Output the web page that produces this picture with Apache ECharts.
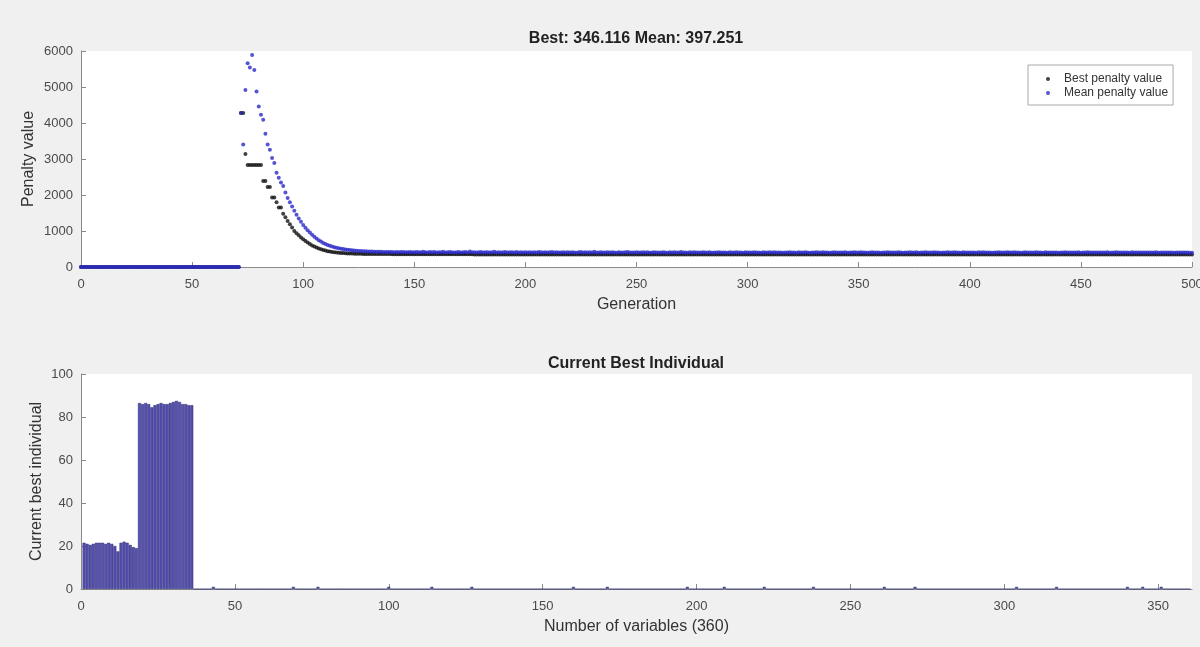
<!DOCTYPE html>
<html>
<head>
<meta charset="utf-8">
<script src="https://cdn.jsdelivr.net/npm/echarts@6/dist/echarts.min.js"></script>
<style>
  html, body { margin: 0; padding: 0; background: #f0f0f0; }
  #chart { width: 1200px; height: 647px; }
</style>
</head>
<body>
<div id="chart"></div>
<script>
// penalty values per generation, index = generation (0..500)
const bestPenalty = [
  0,0,0,0,0,0,0,0,0,0,0,0,0,0,0,0,0,0,0,0,
  0,0,0,0,0,0,0,0,0,0,0,0,0,0,0,0,0,0,0,0,
  0,0,0,0,0,0,0,0,0,0,0,0,0,0,0,0,0,0,0,0,
  0,0,0,0,0,0,0,0,0,0,0,0,4280,4280,3140,2830,2830,2830,2830,2830,
  2830,2830,2390,2390,2220,2220,1930,1930,1800,1650,1650,1480,1380,1280,1190,1100,1000,940,880,820,
  770,720,680,640,600,570,540,515,490,470,455,440,428,418,410,402,396,390,386,382,
  378,375,372,370,368,366,365,364,363,362,361,361,360,360,359,359,359,358,358,358,
  357,357,357,356,356,356,356,355,355,355,355,354,354,354,354,354,353,353,353,353,
  353,353,352,352,352,352,352,352,352,351,351,351,351,351,351,351,351,350,350,350,
  350,350,350,350,350,350,350,350,350,350,349,349,349,349,349,349,349,349,349,349,
  349,349,349,349,349,349,349,349,349,349,348,348,348,348,348,348,348,348,348,348,
  348,348,348,348,348,348,348,348,348,348,348,348,348,348,348,348,348,348,348,348,
  348,348,348,348,348,348,348,348,348,348,347,347,347,347,347,347,347,347,347,347,
  347,347,347,347,347,347,347,347,347,347,347,347,347,347,347,347,347,347,347,347,
  347,347,347,347,347,347,347,347,347,347,347,347,347,347,347,347,347,347,347,347,
  347,347,347,347,347,347,347,347,347,347,347,347,347,347,347,347,347,347,347,347,
  347,347,347,347,347,347,347,347,347,347,347,347,347,347,347,347,347,347,347,347,
  347,347,347,347,347,347,347,347,347,347,347,347,347,347,347,347,347,347,347,347,
  347,347,347,347,347,347,347,347,347,347,347,347,347,347,347,347,347,347,347,347,
  347,347,347,347,347,347,347,347,347,347,347,347,347,347,347,347,347,347,347,347,
  347,347,347,347,347,347,347,347,347,347,347,347,347,347,347,347,347,347,347,347,
  347,347,347,347,347,347,347,347,347,347,347,347,347,347,347,347,347,347,347,347,
  346,346,346,346,346,346,346,346,346,346,346,346,346,346,346,346,346,346,346,346,
  346,346,346,346,346,346,346,346,346,346,346,346,346,346,346,346,346,346,346,346,
  346,346,346,346,346,346,346,346,346,346,346,346,346,346,346,346,346,346,346,346,
  346.116
];

const meanPenalty = [
  0,0,0,0,0,0,0,0,0,0,0,0,0,0,0,0,0,0,0,0,
  0,0,0,0,0,0,0,0,0,0,0,0,0,0,0,0,0,0,0,0,
  0,0,0,0,0,0,0,0,0,0,0,0,0,0,0,0,0,0,0,0,
  0,0,0,0,0,0,0,0,0,0,0,0,4280,3400,4920,5660,5540,5890,5475,4875,
  4460,4230,4090,3700,3400,3260,3030,2890,2620,2480,2350,2250,2070,1920,1800,1680,1560,1450,1350,1260,
  1170,1090,1020,955,895,840,790,745,705,670,640,612,588,567,550,535,521,508,497,487,
  478,470,463,457,452,447,443,439,436,433,430,428,426,424,422,421,420,418,417,416,
  415,412,418,409,414,420,411,408,416,413,410,419,407,412,425,409,406,414,411,417,
  405,412,409,421,404,410,416,408,403,411,419,406,409,414,402,428,407,412,405,410,
  417,404,409,413,401,408,422,406,411,403,409,415,400,407,412,405,418,404,409,402,
  410,406,413,401,408,404,419,407,402,411,405,409,416,403,408,400,406,413,404,409,
  402,411,405,399,408,414,403,407,401,410,405,421,404,400,409,403,406,412,401,407,
  404,399,410,405,402,408,415,401,406,403,409,400,405,411,402,407,398,404,410,403,
  406,401,409,404,399,412,403,407,400,405,418,402,406,399,408,403,410,401,405,402,
  407,400,404,410,398,405,402,409,401,406,403,399,411,404,400,407,402,405,398,409,
  403,406,400,412,402,405,399,408,403,401,407,404,410,400,405,402,398,406,403,409,
  401,405,399,407,403,400,410,404,398,406,402,409,400,404,407,401,405,399,403,411,
  402,406,400,404,409,399,405,401,407,403,400,408,402,405,399,404,410,401,406,403,
  399,405,402,408,400,404,406,401,409,403,398,405,402,407,400,404,411,399,405,402,
  408,400,404,403,409,401,405,399,406,402,410,404,400,407,403,405,399,408,402,404,
  401,406,403,399,407,402,412,400,405,403,398,406,404,409,401,405,400,407,402,404,
  410,401,405,399,404,408,402,406,400,403,407,401,405,399,409,402,404,400,406,403,
  399,405,402,408,400,404,406,401,403,409,399,405,402,407,400,404,401,406,403,400,
  405,402,408,399,404,401,407,403,400,406,402,405,399,409,403,401,404,400,406,402,
  403,400,405,401,407,399,404,402,406,400,403,405,399,402,404,400,406,401,403,399,
  397.251
];

// current best individual: variables 1..18 and 19..36, small non-zero values elsewhere
const nVariables = 360;
const firstBlock = [21.5,21,20.5,21,21.5,21.5,21.5,21,21.5,21,20,17.5,21.5,22,21.5,20.5,19.5,19];
const secondBlock = [86.5,86,86.5,86,84.5,85.5,86,86.5,86,86,86.5,87,87.5,87,86,86,85.5,85.5];
const smallVarIndex = [43,69,77,100,114,127,160,171,197,209,222,238,261,271,304,317,340,345,351];
const smallVarValue = [1,1,1,1,1,1,1,1,1,1,1,1,1,1,1,1,1,1,1];

const font = "'Liberation Sans', Arial, sans-serif";
const axisColor = '#8a8a8a';
const labelColor = '#4a4a4a';

const bestData = bestPenalty.map((v, i) => [i, v]);
const meanData = meanPenalty.map((v, i) => [i, v]);

const individual = [];
for (let i = 1; i <= nVariables; i++) individual.push([i, 0]);
firstBlock.forEach((v, k) => { individual[k][1] = v; });
secondBlock.forEach((v, k) => { individual[firstBlock.length + k][1] = v; });
smallVarIndex.forEach((idx, k) => { individual[idx - 1][1] = smallVarValue[k]; });

function valueAxis(extra, labelMargin) {
  return Object.assign({
    type: 'value',
    axisLine: { show: true, lineStyle: { color: axisColor, width: 1 } },
    axisTick: { show: true, inside: true, length: 5, lineStyle: { color: axisColor } },
    axisLabel: {
      fontSize: 13, color: labelColor, fontFamily: font, margin: labelMargin,
      showMaxLabel: extra.max !== 361,
      formatter: (v) => String(v)
    },
    splitLine: { show: false },
    nameLocation: 'middle',
    nameMoveOverlap: false,
    nameTextStyle: { fontSize: 16, color: '#333', fontFamily: font }
  }, extra);
}

const titleStyle = { fontSize: 16, fontWeight: 'bold', color: '#222', fontFamily: font };

const chart = echarts.init(document.getElementById('chart'));
chart.setOption({
  backgroundColor: '#f0f0f0',
  animation: false,
  title: [
    { text: 'Best: 346.116 Mean: 397.251', left: 636, top: 31, padding: 0, textAlign: 'center', textStyle: titleStyle },
    { text: 'Current Best Individual', left: 636, top: 356, padding: 0, textAlign: 'center', textStyle: titleStyle }
  ],
  legend: {
    data: ['Best penalty value', 'Mean penalty value'],
    orient: 'vertical',
    left: 1028, top: 65,
    padding: [8, 5, 6, 18],
    itemGap: 2,
    itemWidth: 22, itemHeight: 4,
    icon: 'circle',
    backgroundColor: '#fff',
    borderColor: '#a8a8a8',
    borderWidth: 1,
    borderRadius: 0,
    textStyle: { fontSize: 12, color: '#333', fontFamily: font }
  },
  grid: [
    { left: 81, top: 51, width: 1111, height: 216, show: true, backgroundColor: '#fff', borderWidth: 0, outerBoundsMode: 'none' },
    { left: 81, top: 374, width: 1111, height: 215, show: true, backgroundColor: '#fff', borderWidth: 0, outerBoundsMode: 'none' }
  ],
  xAxis: [
    valueAxis({ gridIndex: 0, min: 0, max: 500, interval: 50, name: 'Generation', nameGap: 30 }, 11),
    valueAxis({ gridIndex: 1, min: 0, max: 361, interval: 50, name: 'Number of variables (360)', nameGap: 30 }, 11)
  ],
  yAxis: [
    valueAxis({ gridIndex: 0, min: 0, max: 6000, interval: 1000, name: 'Penalty value', nameGap: 44 }, 8),
    valueAxis({ gridIndex: 1, min: 0, max: 100, interval: 20, name: 'Current best individual', nameGap: 36 }, 8)
  ],
  series: [
    {
      name: 'Best penalty value',
      type: 'scatter',
      xAxisIndex: 0, yAxisIndex: 0,
      symbol: 'circle', symbolSize: 4,
      itemStyle: { color: '#111' },
      data: bestData
    },
    {
      name: 'Mean penalty value',
      type: 'scatter',
      xAxisIndex: 0, yAxisIndex: 0,
      symbol: 'circle', symbolSize: 4,
      itemStyle: { color: '#2b2bc8' },
      data: meanData
    },
    {
      name: 'individual',
      type: 'bar',
      xAxisIndex: 1, yAxisIndex: 1,
      barWidth: 3,
      itemStyle: { color: '#5550b1', borderColor: '#2b2870', borderWidth: 0.5 },
      data: individual
    }
  ]
});
</script>
</body>
</html>
